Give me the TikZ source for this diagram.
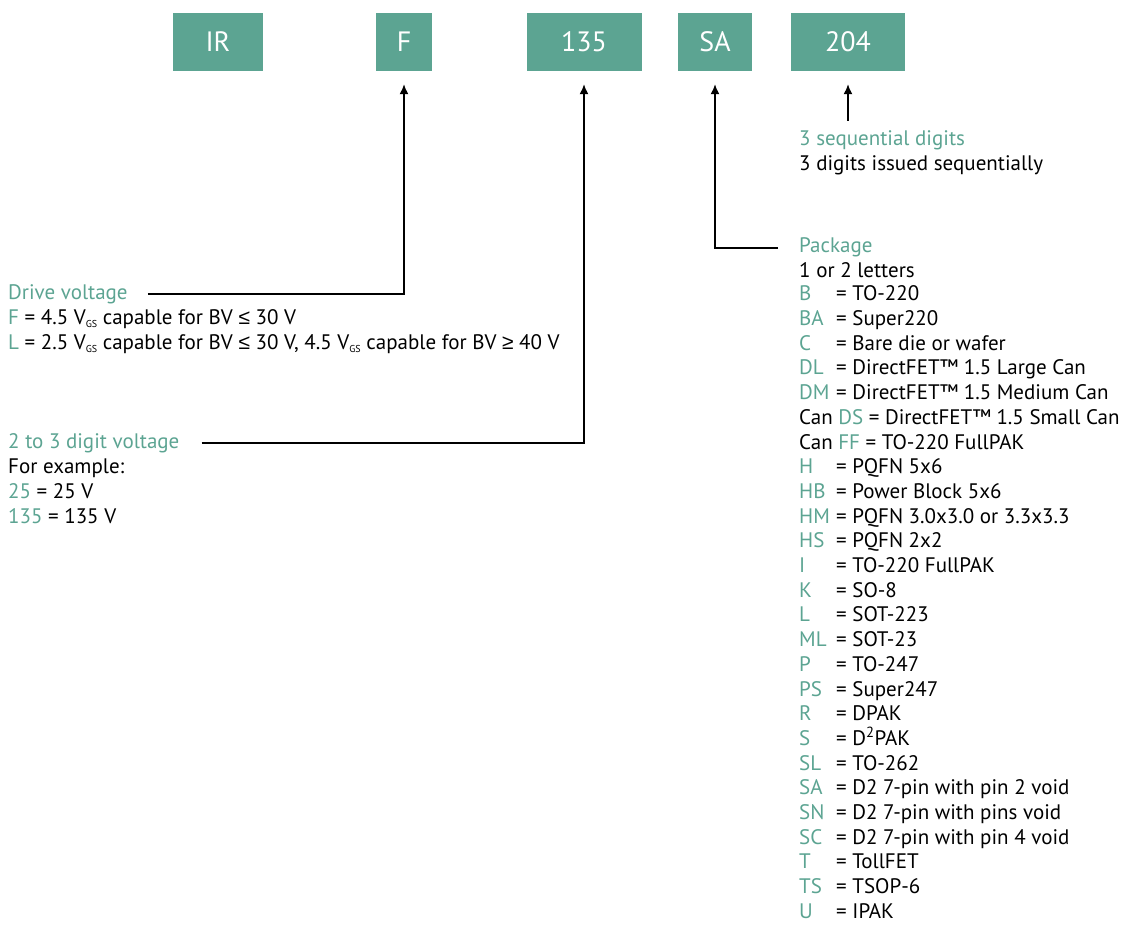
\documentclass[tikz,border=0pt]{standalone}
\usepackage{fontspec}
\setmainfont{PT Sans}
\newfontfamily\symfont{Liberation Sans}
\usetikzlibrary{arrows.meta}

\definecolor{sea}{RGB}{92,164,146}

\newcommand\cd[1]{\textcolor{sea}{#1}}
\newcommand\pk[1]{\makebox[37pt][l]{\cd{#1}}}
\newcommand\gs{\raisebox{-3pt}{\fontsize{10}{10}\selectfont GS}}
\newcommand\lesym{{\symfont ≤}}
\newcommand\gesym{{\symfont ≥}}

\begin{document}
\begin{tikzpicture}[
  x=1pt,y=-1pt,
  box/.style={fill=sea,text=white,font=\fontsize{28}{32}\selectfont,
    minimum height=58pt,inner sep=0pt},
  link/.style={-{Latex[length=10pt,width=9pt]},line width=1.5pt},
  head/.style={text=sea,font=\fontsize{21}{25}\selectfont,
    anchor=base west,inner sep=0pt},
  item/.style={font=\fontsize{21}{25}\selectfont,anchor=base west,inner sep=0pt}
]

\useasboundingbox (0,0) rectangle (1124,925);

% part number boxes
\node[box,minimum width=90pt] (ir) at (218,42) {IR};
\node[box,minimum width=56pt] (drv) at (404,42) {F};
\node[box,minimum width=115pt] (volt) at (584,42) {135};
\node[box,minimum width=74pt] (pkg) at (715,42) {SA};
\node[box,minimum width=114pt] (seq) at (848,42) {204};

% 3 sequential digits
\node[head] (seqhd) at (799,146) {3 sequential digits};
\node[item] (seqtx) at (799,170.7) {3 digits issued sequentially};

% drive voltage
\node[head] (drvhd) at (8,299) {Drive voltage};
\node[item] (drv1) at (8,324) {\cd{F} = 4.5 V\gs{} capable for BV \lesym{} 30 V};
\node[item] (drv2) at (8,349)
  {\cd{L} = 2.5 V\gs{} capable for BV \lesym{} 30 V, 4.5 V\gs{} capable for BV \gesym{} 40 V};

% voltage
\node[head] (volthd) at (8,448) {2 to 3 digit voltage};
\node[item] (volt1) at (8,473) {For example:};
\node[item] (volt2) at (8,498) {\cd{25} = 25 V};
\node[item] (volt3) at (8,523) {\cd{135} = 135 V};

% package
\node[head] (pkghd) at (799,253) {Package};
\node[item] (pkgtx) at (799,277) {1 or 2 letters};
\foreach \ln [count=\i from 0] in {
  {\pk{B}= TO-220},
  {\pk{BA}= Super220},
  {\pk{C}= Bare die or wafer},
  {\pk{DL}= DirectFET™ 1.5 Large Can},
  {\pk{DM}= DirectFET™ 1.5 Medium Can},
  {Can \cd{DS} = DirectFET™ 1.5 Small Can},
  {Can \cd{FF} = TO-220 FullPAK},
  {\pk{H}= PQFN 5x6},
  {\pk{HB}= Power Block 5x6},
  {\pk{HM}= PQFN 3.0x3.0 or 3.3x3.3},
  {\pk{HS}= PQFN 2x2},
  {\pk{I}= TO-220 FullPAK},
  {\pk{K}= SO-8},
  {\pk{L}= SOT-223},
  {\pk{ML}= SOT-23},
  {\pk{P}= TO-247},
  {\pk{PS}= Super247},
  {\pk{R}= DPAK},
  {\pk{S}= D\textsuperscript{2}PAK},
  {\pk{SL}= TO-262},
  {\pk{SA}= D2 7-pin with pin 2 void},
  {\pk{SN}= D2 7-pin with pins void},
  {\pk{SC}= D2 7-pin with pin 4 void},
  {\pk{T}= TollFET},
  {\pk{TS}= TSOP-6},
  {\pk{U}= IPAK}}
  \node[item] (pk\i) at (799,{300.8+24.7*\i}) {\ln};

% connectors
\draw[link] ([xshift=20pt]drvhd.east) -| ([yshift=-13pt]drv.south);
\draw[link] ([xshift=22pt]volthd.east) -| ([yshift=-13pt]volt.south);
\draw[link] ([xshift=-21pt]pkghd.west) -| ([yshift=-13pt]pkg.south);
\draw[link] ([yshift=10pt]seqhd.north -| seq.south) -- ([yshift=-13pt]seq.south);

\end{tikzpicture}
\end{document}
